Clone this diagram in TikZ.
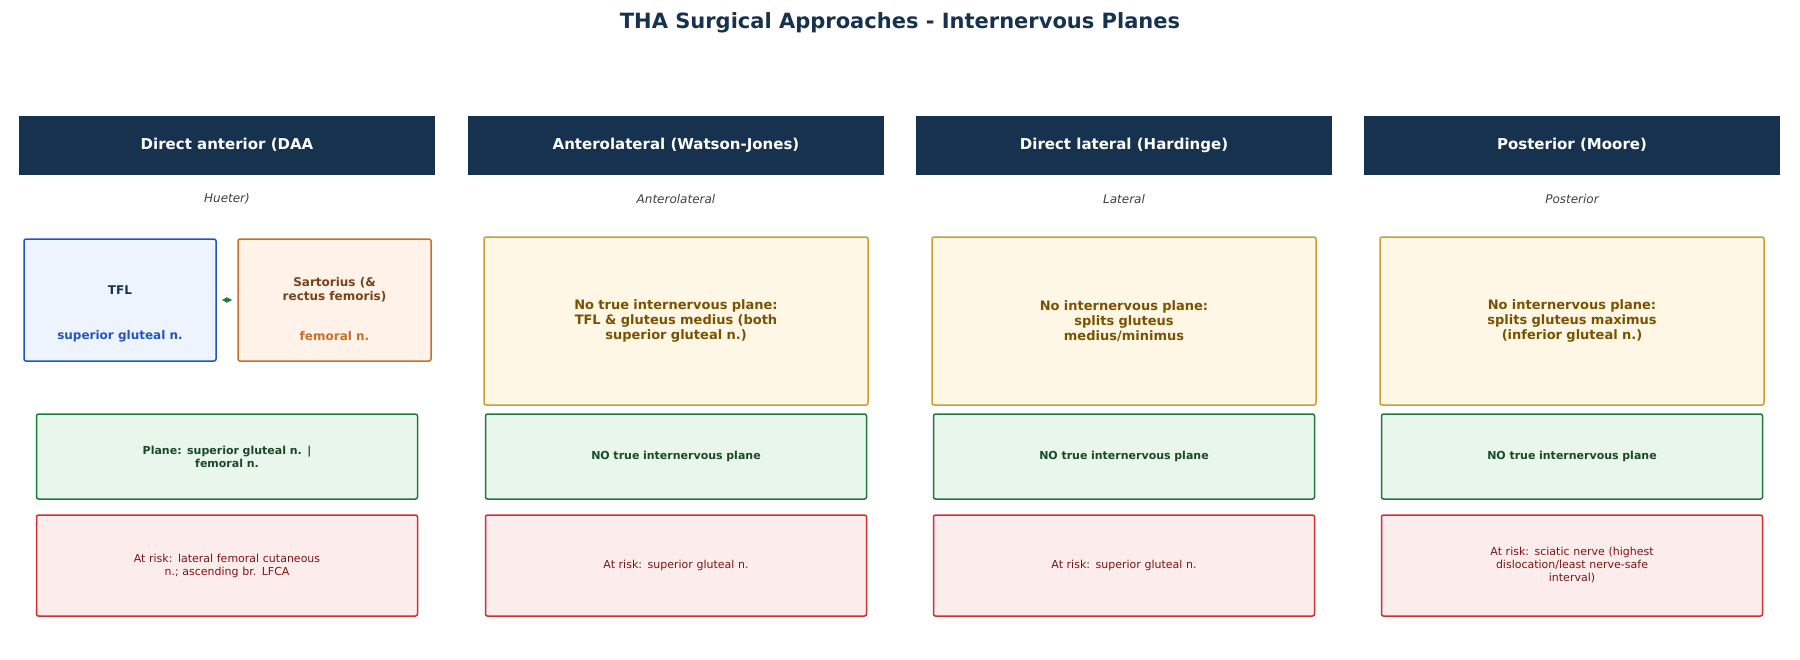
\documentclass[tikz,border=0pt]{standalone}
\usepackage{fontspec}
\setmainfont{DejaVu Sans}
\usetikzlibrary{arrows.meta}
\definecolor{hdr}{HTML}{17324F}
\definecolor{tbl}{HTML}{2255BB}\definecolor{tbf}{HTML}{EEF4FE}
\definecolor{orl}{HTML}{C87028}\definecolor{orf}{HTML}{FFF2E8}
\definecolor{yel}{HTML}{C9A030}\definecolor{yef}{HTML}{FEF7E6}\definecolor{yet}{HTML}{7A5200}
\definecolor{grl}{HTML}{1E7A3C}\definecolor{grf}{HTML}{E9F6EC}\definecolor{grt}{HTML}{1A4A25}
\definecolor{rel}{HTML}{D03030}\definecolor{ref}{HTML}{FDECEC}\definecolor{ret}{HTML}{7A1515}
\begin{document}
\begin{tikzpicture}[x=1pt,y=-1pt,
 hd/.style={fill=hdr,draw=hdr,minimum width=415pt,minimum height=58pt,text=white,font=\fontsize{15}{18}\selectfont\bfseries},
 sub/.style={text=black!75,font=\fontsize{12}{14}\selectfont\itshape},
 box/.style={rounded corners=2pt,line width=1.5pt,align=center,inner sep=0pt},
 yb/.style={box,draw=yel,fill=yef,text=yet,minimum width=384pt,minimum height=168pt,font=\fontsize{13}{15}\selectfont\bfseries,text width=230pt},
 gb/.style={box,draw=grl,fill=grf,text=grt,minimum width=381pt,minimum height=85pt,font=\fontsize{11}{13}\selectfont\bfseries,text width=200pt},
 rb/.style={box,draw=rel,fill=ref,text=ret,minimum width=381pt,minimum height=101pt,font=\fontsize{11}{13}\selectfont,text width=200pt}]
\useasboundingbox (0,0) rectangle (1800,659);
\node[font=\fontsize{21}{24}\selectfont\bfseries,text=hdr] (title) at (900,23) {THA Surgical Approaches - Internervous Planes};
\foreach \c/\t/\s [count=\i] in {227/Direct anterior (DAA / Hueter)/Anterior,676/Anterolateral (Watson-Jones)/Anterolateral,1124/Direct lateral (Hardinge)/Lateral,1572/Posterior (Moore)/Posterior}{
 \node[hd] (h\i) at (\c,145) {\t};
 \node[sub] (s\i) at (\c,199) {\s};
}
% column 1
\node[box,draw=tbl,fill=tbf,minimum width=192pt,minimum height=122pt] (tfl) at (120,300) {};
\node[font=\fontsize{12}{14}\selectfont\bfseries,text=hdr] (tflt) at (120,290) {TFL};
\node[font=\fontsize{12}{14}\selectfont\bfseries,text=tbl] (tfln) at (120,336) {superior gluteal n.};
\node[box,draw=orl,fill=orf,minimum width=193pt,minimum height=122pt] (sar) at (334.5,300) {};
\node[font=\fontsize{12}{14}\selectfont\bfseries,text=orl!60!black,align=center] (sart) at (334.5,290) {Sartorius (\&\\rectus femoris)};
\node[font=\fontsize{12}{14}\selectfont\bfseries,text=orl] (sarn) at (334.5,336) {femoral n.};
\draw[{Latex[length=5pt,width=6pt]}-{Latex[length=5pt,width=6pt]},grl,line width=1.5pt] (tfl.east) ++(5,0) coordinate (a1) -- ([xshift=-5pt]sar.west);
\node[gb] (g1) at (227,456.5) {Plane: superior gluteal n. |\\femoral n.};
\node[rb] (r1) at (227,565.5) {At risk: lateral femoral cutaneous\\n.; ascending br. LFCA};
% columns 2-4
\node[yb] (y2) at (676,321) {No true internervous plane:\\TFL \& gluteus medius (both\\superior gluteal n.)};
\node[yb] (y3) at (1124,321) {No internervous plane:\\splits gluteus\\medius/minimus};
\node[yb] (y4) at (1572,321) {No internervous plane:\\splits gluteus maximus\\(inferior gluteal n.)};
\foreach \c/\i in {676/2,1124/3,1572/4}{
 \node[gb] (g\i) at (\c,456.5) {NO true internervous plane};
}
\node[rb] (r2) at (676,565.5) {At risk: superior gluteal n.};
\node[rb] (r3) at (1124,565.5) {At risk: superior gluteal n.};
\node[rb] (r4) at (1572,565.5) {At risk: sciatic nerve (highest\\dislocation/least nerve-safe\\interval)};
\end{tikzpicture}
\end{document}
